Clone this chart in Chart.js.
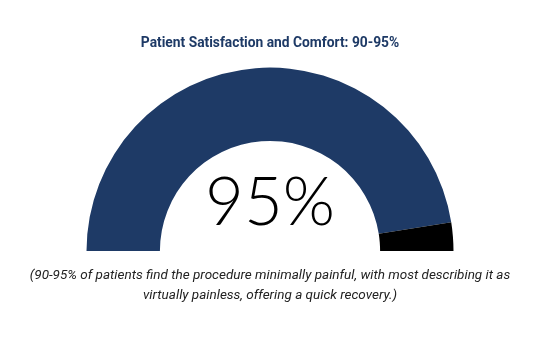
<!DOCTYPE html>
<html>
<head>
<meta charset="utf-8">
<script src="https://cdn.jsdelivr.net/npm/chart.js@4.4.1/dist/chart.umd.min.js"></script>
<style>
  html, body { margin: 0; padding: 0; background: #fff; }
  #wrap { width: 540px; height: 340px; }
</style>
</head>
<body>
<div id="wrap"><canvas id="gauge"></canvas></div>
<script>
// gauge data
var labels = ['Satisfied / comfortable', 'Other'];
var values = [95, 5];
var centerLabel = '95%';
var titleText = 'Patient Satisfaction and Comfort: 90-95%';
var captionLines = [
    '(90-95% of patients find the procedure minimally painful, with most describing it as',
    'virtually painless, offering a quick recovery.)'
];

var navy = '#1e3a66';

var centerText = {
    id: 'centerText',
    afterDatasetsDraw: function (chart) {
        var arc = chart.getDatasetMeta(0).data[0];
        if (!arc) return;
        var c = chart.ctx;
        c.save();
        c.fillStyle = '#000';
        c.font = '300 67px Lato, "Open Sans", sans-serif';
        c.textAlign = 'center';
        c.textBaseline = 'alphabetic';
        c.fillText(centerLabel, arc.x, arc.y - 26);
        c.restore();
    }
};

var ctx = document.getElementById('gauge').getContext('2d');
var gauge = new Chart(ctx, {
    type: 'doughnut',
    data: {
        labels: labels,
        datasets: [{
            data: values,
            backgroundColor: [navy, '#000000'],
            borderWidth: 0
        }]
    },
    options: {
        responsive: true,
        maintainAspectRatio: false,
        animation: false,
        rotation: -90,
        circumference: 180,
        cutout: '60%',
        plugins: {
            legend: { display: false },
            tooltip: { enabled: false },
            title: {
                display: true,
                text: titleText,
                color: navy,
                font: { family: 'Roboto', size: 13.8, weight: 'bold', lineHeight: 1.2 },
                padding: { top: 35, bottom: 16 }
            },
            subtitle: {
                display: true,
                position: 'bottom',
                text: captionLines,
                color: '#222222',
                font: { family: 'Roboto', size: 13.5, style: 'italic', lineHeight: 1.45 },
                padding: { top: 15, bottom: 34.8 }
            }
        }
    },
    plugins: [centerText]
});
</script>
</body>
</html>
